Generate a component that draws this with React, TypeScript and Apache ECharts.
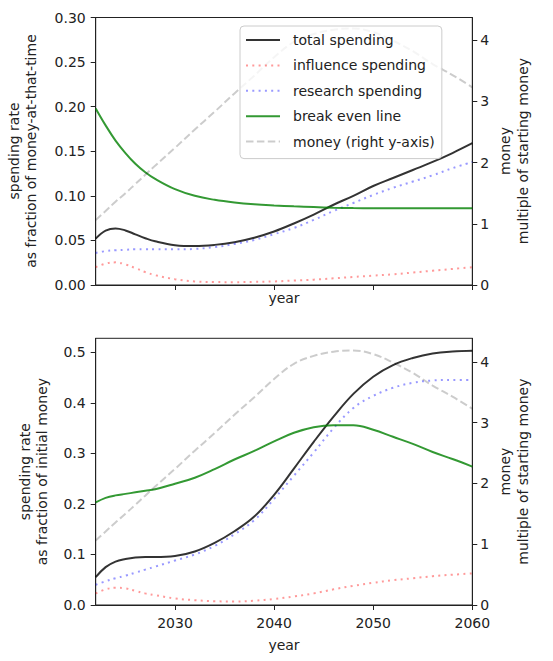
import React, { useEffect, useRef } from "react";
import * as echarts from "echarts";

const years = [2022, 2023, 2024, 2025, 2026, 2027, 2028, 2030, 2032, 2034, 2036, 2038, 2040, 2042, 2044, 2046, 2048, 2050, 2052, 2054, 2056, 2058, 2060];

const money = [1.06, 1.21, 1.36, 1.5, 1.65, 1.8, 1.95, 2.24, 2.54, 2.83, 3.13, 3.42, 3.72, 3.97, 4.1, 4.17, 4.19, 4.13, 3.99, 3.82, 3.61, 3.43, 3.23];

const topTotal = [0.052, 0.061, 0.0635, 0.0612, 0.0568, 0.0525, 0.049, 0.0447, 0.0437, 0.045, 0.048, 0.053, 0.06, 0.069, 0.079, 0.09, 0.1, 0.111, 0.12, 0.129, 0.138, 0.148, 0.159];
const topInfluence = [0.02, 0.024, 0.0254, 0.023, 0.019, 0.0145, 0.011, 0.0065, 0.004, 0.0033, 0.0032, 0.0035, 0.004, 0.005, 0.006, 0.0075, 0.009, 0.0105, 0.012, 0.014, 0.016, 0.018, 0.02];
const topResearch = [0.036, 0.038, 0.039, 0.0395, 0.04, 0.04, 0.04, 0.04, 0.0405, 0.0425, 0.046, 0.0505, 0.057, 0.064, 0.073, 0.083, 0.092, 0.101, 0.109, 0.116, 0.123, 0.131, 0.138];
const topBreakEven = [0.198, 0.179, 0.162, 0.148, 0.136, 0.1265, 0.119, 0.1075, 0.1, 0.0955, 0.0925, 0.0905, 0.0892, 0.0882, 0.0874, 0.0867, 0.0863, 0.0861, 0.086, 0.086, 0.086, 0.086, 0.086];

const botTotal = [0.055, 0.075, 0.086, 0.091, 0.094, 0.095, 0.095, 0.097, 0.106, 0.123, 0.146, 0.175, 0.218, 0.27, 0.323, 0.373, 0.418, 0.452, 0.475, 0.489, 0.498, 0.502, 0.5035];
const botInfluence = [0.023, 0.031, 0.034, 0.033, 0.028, 0.023, 0.0195, 0.013, 0.0095, 0.0075, 0.007, 0.0085, 0.012, 0.017, 0.023, 0.031, 0.038, 0.044, 0.049, 0.053, 0.057, 0.06, 0.0625];
const botResearch = [0.04, 0.047, 0.053, 0.058, 0.064, 0.07, 0.076, 0.088, 0.1, 0.117, 0.14, 0.168, 0.21, 0.256, 0.302, 0.35, 0.39, 0.414, 0.43, 0.44, 0.4445, 0.4455, 0.4455];
const botBreakEven = [0.203, 0.212, 0.217, 0.22, 0.223, 0.226, 0.229, 0.24, 0.252, 0.269, 0.288, 0.305, 0.324, 0.341, 0.352, 0.356, 0.356, 0.347, 0.333, 0.319, 0.303, 0.289, 0.274];

const xTicks = [2030, 2040, 2050, 2060];
const topLeftTicks = [0, 0.05, 0.1, 0.15, 0.2, 0.25, 0.3];
const botLeftTicks = [0, 0.1, 0.2, 0.3, 0.4, 0.5];
const rightTicks = [0, 1, 2, 3, 4];

const seriesNames = ["total spending", "influence spending", "research spending", "break even line", "money (right y-axis)"];

const FONT = "DejaVu Sans";
const TXT = "#222";

const pairs = (vals: number[]) => years.map((y, i) => [y, vals[i]]);

export default function App() {
  const ref = useRef<HTMLDivElement>(null);
  useEffect(() => {
    if (!ref.current) return;
    const chart = echarts.init(ref.current, null, { renderer: "svg" });

    const styles = [
      { color: "rgba(0,0,0,0.8)", type: "solid" as any },
      { color: "rgba(255,0,0,0.4)", type: [2, 4.3] as any },
      { color: "rgba(0,0,255,0.4)", type: [2, 4.3] as any },
      { color: "rgba(0,128,0,0.8)", type: "solid" as any },
      { color: "rgba(0,0,0,0.2)", type: [7.5, 3.4] as any },
    ];

    const mk = (name: string, idx: number, data: number[], g: number, right: boolean) => ({
      name,
      type: "line",
      xAxisIndex: g,
      yAxisIndex: g * 2 + (right ? 1 : 0),
      data: pairs(data),
      symbol: "none",
      showSymbol: false,
      smooth: 0.4,
      color: styles[idx].color,
      lineStyle: { color: styles[idx].color, width: 2, type: styles[idx].type, cap: "butt" },
      z: right ? 3 : 2,
    });

    const xAxisBase = (gridIndex: number, labels: boolean) => ({
      type: "value",
      gridIndex,
      min: 2022,
      max: 2060,
      axisLine: { show: true, onZero: false, lineStyle: { color: "#222", width: 1 } },
      axisTick: { show: true, length: 5, customValues: xTicks, lineStyle: { color: "#222" } },
      axisLabel: {
        show: labels,
        customValues: xTicks,
        formatter: (v: number) => String(v),
        margin: 11,
        fontFamily: FONT,
        fontSize: 14,
        color: TXT,
      },
      splitLine: { show: false },
    });

    const yLeft = (gridIndex: number, max: number, ticks: number[], dec: number) => ({
      type: "value",
      gridIndex,
      min: 0,
      max,
      position: "left",
      axisLine: { show: true, lineStyle: { color: "#222", width: 1 } },
      axisTick: { show: true, length: 5, customValues: ticks, lineStyle: { color: "#222" } },
      axisLabel: {
        customValues: ticks,
        formatter: (v: number) => v.toFixed(dec),
        margin: 10,
        fontFamily: FONT,
        fontSize: 14,
        color: TXT,
      },
      splitLine: { show: false },
    });

    const yRight = (gridIndex: number, max: number) => ({
      type: "value",
      gridIndex,
      min: 0,
      max,
      position: "right",
      axisLine: { show: true, lineStyle: { color: "#222", width: 1 } },
      axisTick: { show: true, length: 5, customValues: rightTicks, lineStyle: { color: "#222" } },
      axisLabel: {
        customValues: rightTicks,
        formatter: (v: number) => String(v),
        margin: 8,
        fontFamily: FONT,
        fontSize: 14,
        color: TXT,
      },
      splitLine: { show: false },
    });

    const textEl = (text: string, x: number, y: number, rot: boolean) => ({
      type: "text",
      x,
      y,
      rotation: rot ? Math.PI / 2 : 0,
      style: {
        text,
        fontFamily: FONT,
        fontSize: 14,
        lineHeight: 17.5,
        fill: TXT,
        align: "center",
        verticalAlign: "middle",
      },
      z: 10,
    });

    const option: any = {
      animation: false,
      backgroundColor: "#fff",
      grid: [
        { left: 95.7, top: 17.5, width: 376.6, height: 267.5, show: true, borderColor: "#222", borderWidth: 1 },
        { left: 95.7, top: 338.3, width: 376.6, height: 266.7, show: true, borderColor: "#222", borderWidth: 1 },
      ],
      xAxis: [xAxisBase(0, false), xAxisBase(1, true)],
      yAxis: [
        yLeft(0, 0.3, topLeftTicks, 2),
        yRight(0, 4.37),
        yLeft(1, 0.528, botLeftTicks, 1),
        yRight(1, 4.39),
      ],
      legend: {
        data: seriesNames,
        orient: "vertical",
        left: 240,
        top: 26,
        itemWidth: 34,
        itemHeight: 14,
        itemGap: 11.4,
        padding: [7, 7, 10, 5],
        backgroundColor: "rgba(255,255,255,0.8)",
        borderColor: "#cccccc",
        borderWidth: 1,
        borderRadius: 4,
        itemStyle: { opacity: 0 },
        textStyle: { fontFamily: FONT, fontSize: 14, color: TXT, padding: [0, 0, 0, 8] },
        selectedMode: false,
        z: 20,
      },
      graphic: [
        textEl("spending rate\nas fraction of money-at-that-time", 22.5, 151, true),
        textEl("money\nmultiple of starting money", 514, 151, true),
        textEl("spending rate\nas fraction of initial money", 33.5, 471.6, true),
        textEl("money\nmultiple of starting money", 514, 471.6, true),
        textEl("year", 284, 298, false),
        textEl("year", 284, 645, false),
      ],
      series: [
        mk(seriesNames[0], 0, topTotal, 0, false),
        mk(seriesNames[1], 1, topInfluence, 0, false),
        mk(seriesNames[2], 2, topResearch, 0, false),
        mk(seriesNames[3], 3, topBreakEven, 0, false),
        mk(seriesNames[4], 4, money, 0, true),
        mk(seriesNames[0], 0, botTotal, 1, false),
        mk(seriesNames[1], 1, botInfluence, 1, false),
        mk(seriesNames[2], 2, botResearch, 1, false),
        mk(seriesNames[3], 3, botBreakEven, 1, false),
        mk(seriesNames[4], 4, money, 1, true),
      ],
    };

    chart.setOption(option);
    return () => chart.dispose();
  }, []);

  return (
    <div
      ref={ref}
      style={{ position: "fixed", left: 0, top: 0, width: 553, height: 661, background: "#fff" }}
    />
  );
}
